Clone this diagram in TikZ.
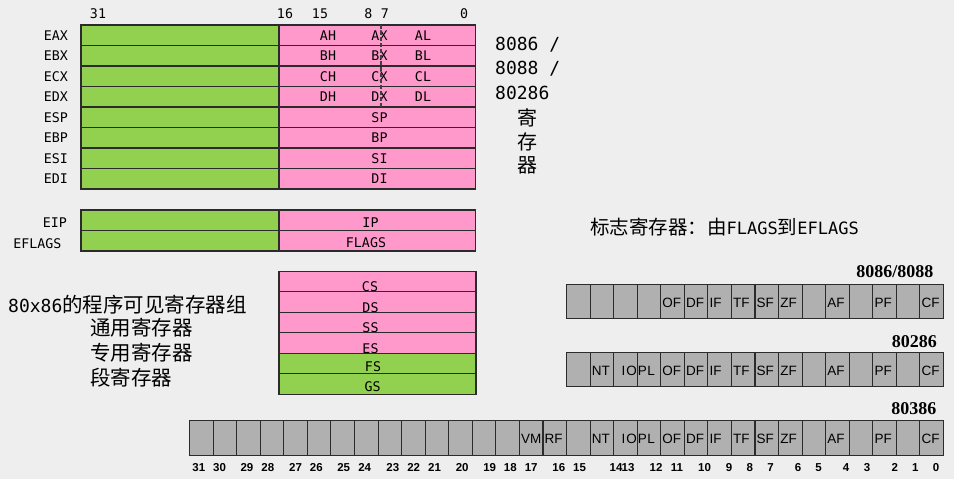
\documentclass[tikz,border=0pt]{standalone}
\usepackage{fontspec}
\setmainfont{DejaVu Sans}
\newfontfamily\monof{DejaVu Sans Mono}
\newfontfamily\cjkf{Noto Sans CJK SC}
\newfontfamily\serifb{Liberation Serif}
\newfontfamily\lsans{Liberation Sans}
\definecolor{bgc}{HTML}{EEEEEE}
\definecolor{grn}{HTML}{92D050}
\definecolor{pnk}{HTML}{FF99CC}
\definecolor{gry}{HTML}{B0B0B0}
\definecolor{bord}{HTML}{2B2B2B}
\newcommand\myflagrow[3]{%
  \foreach \b in {0,...,#3}{%
    \node[fcell] (#1\b) at ({943.5-(\b+0.5)*23.56},{#2+17.25}) {};
  }}
\newcommand\myflaglabels[2]{%
  \foreach \b/\t in {#2}{%
    \node[ftxt,anchor=west] (#1t\b) at ([xshift=1.5pt,yshift=-1pt]#1\b.west) {\t};
  }}
\begin{document}
\begin{tikzpicture}[x=1pt,y=-1pt,
  regbox/.style={draw=bord,line width=1.2pt,inner sep=0pt,outer sep=0pt,anchor=north west,minimum height=20.5pt},
  greg/.style={regbox,fill=grn,minimum width=198pt},
  preg/.style={regbox,fill=pnk,minimum width=196.5pt},
  rtxt/.style={font=\monof\fontsize{13.3}{15}\selectfont,inner sep=0pt,text=black},
  bigmono/.style={font=\monof\fontsize{18}{20}\selectfont,inner sep=0pt,text=black},
  bigcjk/.style={font=\cjkf\fontsize{20}{22}\selectfont,inner sep=0pt,text=black},
  fcell/.style={draw=bord,line width=1.1pt,fill=gry,minimum width=23.56pt,minimum height=34.5pt,inner sep=0pt,outer sep=0pt},
  ftxt/.style={font=\lsans\fontsize{13.5}{15}\selectfont,inner sep=0pt,text=black},
  ntxt/.style={font=\lsans\bfseries\fontsize{11.5}{13}\selectfont,inner sep=0pt,text=black},
  ttl/.style={font=\serifb\bfseries\fontsize{18}{20}\selectfont,inner sep=0pt,anchor=east,text=black},
  dashline/.style={draw=black!75,line width=1.1pt,dash pattern=on 4pt off 2pt}
]
\fill[bgc] (0,0) rectangle (954,479);
\useasboundingbox (0,0) rectangle (954,479);

% bit numbers on top
\foreach \t/\xx in {31/98,16/285,15/320,8/368.5,7/385,0/464}
  \node[rtxt] (top\t) at (\xx,13.5) {\t};

% general registers
\foreach \e/\r [count=\i from 0] in {EAX/AX,EBX/BX,ECX/CX,EDX/DX,ESP/SP,EBP/BP,ESI/SI,EDI/DI}{
  \pgfmathsetmacro\yy{25+20.5*\i}
  \node[greg] (g\e) at (81,\yy) {};
  \node[preg] (p\e) at (279,\yy) {};
  \node[rtxt,anchor=east] (l\e) at (68,\yy+10.3) {\e};
  \node[rtxt] (t\e) at (379.5,\yy+10.3) {\r};
}
\foreach \h/\l [count=\i from 0] in {AH/AL,BH/BL,CH/CL,DH/DL}{
  \pgfmathsetmacro\yy{25+20.5*\i+10.3}
  \node[rtxt] (hi\h) at (328,\yy) {\h};
  \node[rtxt] (lo\l) at (423,\yy) {\l};
}
\draw[dashline] (381,25) -- (381,107);

% right caption
\node[bigmono,anchor=west] (c1) at (495,45) {8086 /};
\node[bigmono,anchor=west] (c2) at (495,68.5) {8088 /};
\node[bigmono,anchor=west] (c3) at (495,93) {80286};
\node[bigcjk] (c4) at (527,117.5) {寄};
\node[bigcjk] (c5) at (527,141.5) {存};
\node[bigcjk] (c6) at (527,165.5) {器};

% EIP / EFLAGS
\node[greg] (gEIP) at (81,210) {};
\node[preg] (pEIP) at (279,210) {};
\node[greg] (gEFL) at (81,230.5) {};
\node[preg] (pEFL) at (279,230.5) {};
\node[rtxt,anchor=east] (lEIP) at (67,223) {EIP};
\node[rtxt,anchor=east] (lEFL) at (61.5,243.5) {EFLAGS};
\node[rtxt] (tIP) at (370.5,222.5) {IP};
\node[rtxt] (tFL) at (366,243) {FLAGS};

% segment registers
\foreach \s/\st/\dy/\xx [count=\i from 0] in {CS/preg/15/370,DS/preg/15.5/370.5,SS/preg/15.4/370.5,ES/preg/15.5/370.5,FS/greg/13/373,GS/greg/13/372.7}{
  \pgfmathsetmacro\yy{271.3+20.5*\i}
  \node[\st,minimum width=197pt] (s\s) at (279,\yy) {};
  \node[rtxt] (ts\s) at (\xx,\yy+\dy) {\s};
}

% left captions
\node[anchor=west,inner sep=0pt] (cap1) at (8,305) {{\monof\fontsize{18}{20}\selectfont 80x86}{\cjkf\fontsize{20.5}{22}\selectfont 的程序可见寄存器组}};
\node[bigcjk,anchor=west,font=\cjkf\fontsize{20.5}{22}\selectfont] (cap2) at (90,328) {通用寄存器};
\node[bigcjk,anchor=west,font=\cjkf\fontsize{20.5}{22}\selectfont] (cap3) at (90,352.5) {专用寄存器};
\node[bigcjk,anchor=west,font=\cjkf\fontsize{20.5}{22}\selectfont] (cap4) at (90,377.5) {段寄存器};

% flags title
\node[anchor=west,inner sep=0pt] (ftitle) at (590,227) {{\cjkf\fontsize{19.5}{22}\selectfont 标志寄存器：由}{\monof\fontsize{17}{20}\selectfont FLAGS}{\cjkf\fontsize{19.5}{22}\selectfont 到}{\monof\fontsize{17}{20}\selectfont EFLAGS}};

% flag rows
\node[ttl] (h1) at (933.5,272) {8086/8088};
\myflagrow{ra}{284.3}{15}
\myflaglabels{ra}{11/OF,10/DF,9/IF,8/TF,7/SF,6/ZF,4/AF,2/PF,0/CF}

\node[ttl] (h2) at (937,341.5) {80286};
\myflagrow{rb}{352.3}{15}
\myflaglabels{rb}{14/NT,11/OF,10/DF,9/IF,8/TF,7/SF,6/ZF,4/AF,2/PF,0/CF}
\node[ftxt] (rbtIOPL) at ([xshift=1pt,yshift=-1pt]rb12.west) {I\kern1ptO\kern1ptP\kern0.5ptL};

\node[ttl] (h3) at (936.5,409) {80386};
\myflagrow{rc}{420.8}{31}
\myflaglabels{rc}{17/VM,16/RF,14/NT,11/OF,10/DF,9/IF,8/TF,7/SF,6/ZF,4/AF,2/PF,0/CF}
\node[ftxt] (rctIOPL) at ([xshift=1pt,yshift=-1pt]rc12.west) {I\kern1ptO\kern1ptP\kern0.5ptL};

% bit numbers bottom
\foreach \b/\xx in {31/198.8,30/219.5,29/247,28/267.8,27/295.5,26/316.3,25/343.7,24/364.7,23/392.8,22/413.7,21/434.5,20/462.2,19/489.7,18/510.3,17/531.2,16/558.8,15/579.5,14/616,13/628,12/656,11/677,10/704.5,9/729,8/749.7,7/770.5,6/798,5/818.5,4/846,3/867,2/894.7,1/915.3,0/936}
  \node[ntxt] (n\b) at (\xx,467.5) {\b};
\end{tikzpicture}
\end{document}
